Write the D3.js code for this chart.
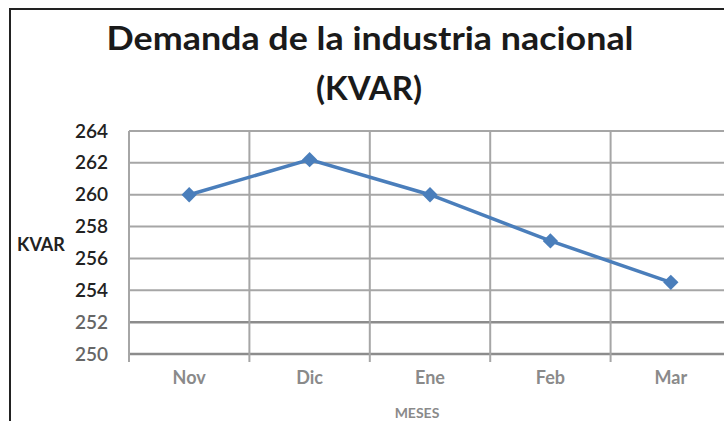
<!DOCTYPE html>
<html>
<head>
<meta charset="utf-8">
<script src="https://cdn.jsdelivr.net/npm/d3@7"></script>
<style>
  body { margin: 0; background: #fff; }
  svg { display: block; }
</style>
</head>
<body>
<div id="chart"></div>
<script>
const meses = ["Nov", "Dic", "Ene", "Feb", "Mar"];
const demanda = [260.0, 262.2, 260.0, 257.1, 254.5];
const yTicks = [250, 252, 254, 256, 258, 260, 262, 264];

const width = 724, height = 421;
const plot = { left: 129, right: 731, top: 131, bottom: 354 };

const svg = d3.select("#chart")
  .append("svg")
    .attr("width", width)
    .attr("height", height);

// chart border (only top and left visible)
svg.append("path")
  .attr("d", `M10,${height + 2} V9 H${width + 2}`)
  .attr("fill", "none")
  .attr("stroke", "#222")
  .attr("stroke-width", 2);

// title
const title = svg.append("text")
  .attr("text-anchor", "middle")
  .attr("font-family", "Lato, 'Open Sans', sans-serif")
  .attr("font-weight", "bold")
  .attr("font-size", 33)
  .attr("fill", "#1a1a1a");
title.append("tspan").attr("x", 370).attr("y", 50)
  .attr("textLength", 527).attr("lengthAdjust", "spacingAndGlyphs")
  .text("Demanda de la industria nacional");
title.append("tspan").attr("x", 369).attr("y", 100)
  .text("(KVAR)");

const xScale = d3.scaleBand()
  .domain(meses)
  .range([plot.left, plot.right])
  .padding(0);

const yScale = d3.scaleLinear()
  .domain([250, 264])
  .range([plot.bottom, plot.top]);

const innerChart = svg.append("g");

// horizontal gridlines
innerChart.append("g")
  .attr("class", "grid-y")
  .selectAll("line")
  .data(yTicks)
  .join("line")
    .attr("x1", plot.left)
    .attr("x2", plot.right)
    .attr("y1", d => yScale(d))
    .attr("y2", d => yScale(d))
    .attr("stroke", d => d <= 252 ? "#8c8c8c" : "#a6a6a6")
    .attr("stroke-width", d => d <= 252 ? 2.5 : 2);

// vertical gridlines at category boundaries (with tick marks below axis)
const bounds = meses.map(m => xScale(m)).concat([xScale.range()[1]]);
innerChart.append("g")
  .attr("class", "grid-x")
  .selectAll("line")
  .data(bounds)
  .join("line")
    .attr("x1", d => d)
    .attr("x2", d => d)
    .attr("y1", plot.top)
    .attr("y2", plot.bottom + 8)
    .attr("stroke", "#a6a6a6")
    .attr("stroke-width", 2);

// y axis labels
const leftAxis = d3.axisLeft(yScale)
  .tickValues(yTicks)
  .tickSize(0)
  .tickPadding(21);

innerChart.append("g")
  .attr("transform", `translate(${plot.left}, 0)`)
  .call(leftAxis)
  .call(g => g.select(".domain").remove())
  .call(g => g.selectAll("text")
    .attr("font-family", "Lato, 'Open Sans', sans-serif")
    .attr("font-size", 19)
    .attr("font-weight", 600)
    .attr("fill", d => d <= 252 ? "#666" : "#222"));

// x axis labels
const bottomAxis = d3.axisBottom(xScale)
  .tickSize(0)
  .tickPadding(17);

innerChart.append("g")
  .attr("transform", `translate(0, ${plot.bottom})`)
  .call(bottomAxis)
  .call(g => g.select(".domain").remove())
  .call(g => g.selectAll("text")
    .attr("font-family", "Lato, 'Open Sans', sans-serif")
    .attr("font-size", 18)
    .attr("font-weight", "bold")
    .attr("fill", "#8a8a8a"));

// axis titles
svg.append("text")
  .attr("x", 41)
  .attr("y", 251)
  .attr("text-anchor", "middle")
  .attr("font-family", "Lato, 'Open Sans', sans-serif")
  .attr("font-weight", "bold")
  .attr("font-size", 18)
  .attr("fill", "#222")
  .text("KVAR");

svg.append("text")
  .attr("x", 417)
  .attr("y", 418)
  .attr("text-anchor", "middle")
  .attr("font-family", "Lato, 'Open Sans', sans-serif")
  .attr("font-weight", "bold")
  .attr("font-size", 14)
  .attr("fill", "#8a8a8a")
  .text("MESES");

// line series
const cx = d => xScale(d) + xScale.bandwidth() / 2;
const series = meses.map((m, i) => ({ mes: m, valor: demanda[i] }));

const lineGenerator = d3.line()
  .x(d => cx(d.mes))
  .y(d => yScale(d.valor));

innerChart.append("path")
  .datum(series)
  .attr("d", lineGenerator)
  .attr("fill", "none")
  .attr("stroke", "#4a7ebb")
  .attr("stroke-width", 3.5);

innerChart.selectAll(".marker")
  .data(series)
  .join("path")
    .attr("class", "marker")
    .attr("transform", d => `translate(${cx(d.mes)}, ${yScale(d.valor)})`)
    .attr("d", d3.symbol(d3.symbolDiamond2, 150))
    .attr("fill", "#4a7ebb");
</script>
</body>
</html>
